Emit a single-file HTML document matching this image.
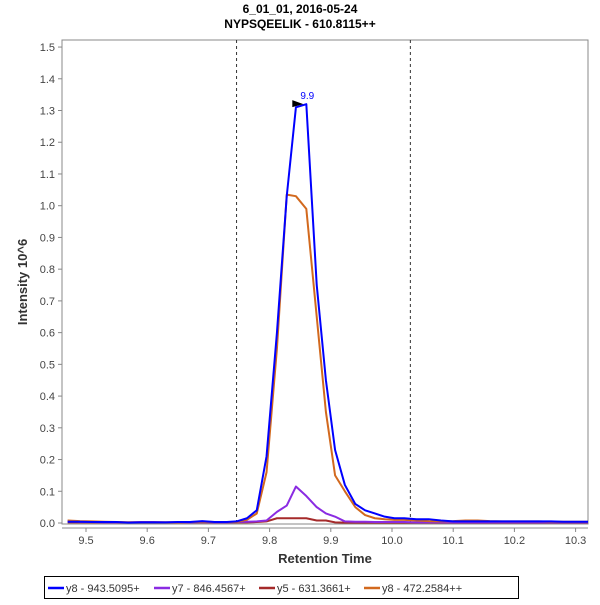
<!DOCTYPE html>
<html><head><meta charset="utf-8"><style>
body{margin:0;background:#fff;font-family:"Liberation Sans",sans-serif}
svg text{font-family:"Liberation Sans",sans-serif}
</style></head><body>
<svg id="c" width="600" height="600" xmlns="http://www.w3.org/2000/svg">
<defs><clipPath id="clip"><rect x="62" y="40" width="526" height="484"/></clipPath></defs>
<text x="300" y="13" text-anchor="middle" font-size="12" font-weight="bold">6_01_01, 2016-05-24</text>
<text x="300" y="28" text-anchor="middle" font-size="12" font-weight="bold">NYPSQEELIK - 610.8115++</text>
<rect x="62" y="40" width="526" height="484" fill="#fff" stroke="#888"/>
<g id="yt"></g><g id="xt"></g><g id="series" clip-path="url(#clip)"></g>
<text transform="translate(27,282) rotate(-90)" text-anchor="middle" font-size="13" font-weight="bold" fill="#333">Intensity 10^6</text>
<text x="325" y="563" text-anchor="middle" font-size="13" font-weight="bold" fill="#333">Retention Time</text>
<g>
<rect x="44.5" y="576.5" width="474" height="22" fill="#fff" stroke="#000"/>
<line x1="48" y1="588" x2="64" y2="588" stroke="#0000ff" stroke-width="2.5"/><text x="66" y="592" font-size="11" fill="#333">y8 - 943.5095+</text>
<line x1="154" y1="588" x2="170" y2="588" stroke="#8a2be2" stroke-width="2.5"/><text x="172" y="592" font-size="11" fill="#333">y7 - 846.4567+</text>
<line x1="259" y1="588" x2="275" y2="588" stroke="#a52a2a" stroke-width="2.5"/><text x="277" y="592" font-size="11" fill="#333">y5 - 631.3661+</text>
<line x1="364" y1="588" x2="380" y2="588" stroke="#d2691e" stroke-width="2.5"/><text x="382" y="592" font-size="11" fill="#333">y8 - 472.2584++</text>
</g>
</svg>
<script>
const times=[9.47,9.49,9.51,9.53,9.55,9.57,9.59,9.61,9.63,9.65,9.67,9.69,9.71,9.73,9.746,9.763,9.779,9.795,9.812,9.828,9.843,9.860,9.877,9.892,9.907,9.923,9.940,9.956,9.972,9.988,10.004,10.02,10.04,10.06,10.08,10.10,10.12,10.14,10.16,10.18,10.20,10.22,10.24,10.26,10.28,10.30,10.33];
const blueVals=[0.004,0.004,0.003,0.003,0.003,0.001,0.002,0.002,0.002,0.003,0.003,0.006,0.003,0.003,0.005,0.015,0.04,0.21,0.6,1.03,1.31,1.32,0.75,0.45,0.23,0.12,0.06,0.04,0.03,0.02,0.015,0.015,0.012,0.012,0.008,0.005,0.005,0.005,0.005,0.005,0.005,0.005,0.005,0.005,0.004,0.004,0.004];
const orangeVals=[0.008,0.006,0.005,0.004,0.003,0.002,0.002,0.002,0.002,0.002,0.003,0.004,0.003,0.003,0.003,0.01,0.03,0.16,0.55,1.035,1.03,0.99,0.65,0.35,0.15,0.1,0.05,0.025,0.015,0.012,0.01,0.01,0.008,0.006,0.005,0.006,0.008,0.008,0.006,0.005,0.005,0.005,0.005,0.004,0.004,0.004,0.004];
const purpleVals=[0.007,0.004,0.003,0.002,0.002,0.002,0.003,0.003,0.002,0.002,0.002,0.003,0.002,0.002,0.003,0.004,0.005,0.008,0.035,0.055,0.115,0.085,0.05,0.03,0.02,0.005,0.004,0.004,0.003,0.003,0.003,0.003,0.002,0.002,0.002,0.002,0.002,0.002,0.002,0.002,0.002,0.002,0.002,0.002,0.002,0.002,0.002];
const redVals=[0.002,0.002,0.002,0.002,0.002,0.002,0.002,0.002,0.002,0.002,0.002,0.002,0.002,0.002,0.002,0.002,0.003,0.005,0.015,0.015,0.015,0.015,0.008,0.008,0.002,0.001,0.001,0.001,0.001,0.001,0.001,0.001,0.001,0.001,0.001,0.001,0.001,0.001,0.001,0.001,0.001,0.001,0.001,0.001,0.001,0.001,0.001];
const yTicks=[0,0.1,0.2,0.3,0.4,0.5,0.6,0.7,0.8,0.9,1.0,1.1,1.2,1.3,1.4,1.5];
const xTicks=[9.5,9.6,9.7,9.8,9.9,10.0,10.1,10.2,10.3];
const markers=[9.746,10.03];
const peakTime=9.86, peakVal=1.32, peakLabel="9.9";
const NS="http://www.w3.org/2000/svg";
const X=t=>86+(t-9.5)*612;
const Y=v=>523-v*317.3;
function mk(tag,attrs,parent){const e=document.createElementNS(NS,tag);for(const k in attrs)e.setAttribute(k,attrs[k]);parent.appendChild(e);return e;}
const yt=document.getElementById('yt'),xt=document.getElementById('xt'),sg=document.getElementById('series');
yTicks.forEach(v=>{
 mk('line',{x1:58,x2:62,y1:Y(v),y2:Y(v),stroke:'#888'},yt);
 const t=mk('text',{x:55,y:Y(v)+4,'text-anchor':'end','font-size':11,fill:'#444'},yt);
 
 
 t.textContent=v.toFixed(1);
});
mk('line',{x1:62,x2:588,y1:528,y2:528,stroke:'#888'},xt);
xTicks.forEach(v=>{
 mk('line',{x1:X(v),x2:X(v),y1:528,y2:532,stroke:'#888'},xt);
 const t=mk('text',{x:X(v),y:544,'text-anchor':'middle','font-size':11,fill:'#444'},xt);
 
 
 t.textContent=v.toFixed(1);
});
markers.forEach(m=>{
 const l=mk('line',{x1:X(m),x2:X(m),y1:40,y2:524,stroke:'#333','stroke-dasharray':'3,3'},sg);
 
 
});
function series(vals,color,name){
 const p=mk('polyline',{points:times.map((t,i)=>X(t)+','+Y(vals[i])).join(' '),fill:'none',stroke:color,'stroke-width':2,'stroke-linejoin':'round'},sg);
 
 
}
series(redVals,'#a52a2a','series-y5');
series(purpleVals,'#8a2be2','series-y7');
series(orangeVals,'#d2691e','series-y8-2');
series(blueVals,'#0000ff','series-y8');
const px=X(peakTime),py=Y(peakVal);
const tri=mk('polygon',{points:(px-14)+','+(py-4)+' '+(px-14)+','+(py+3)+' '+(px-3)+','+py,fill:'#000'},sg);


const pl=mk('text',{x:px-6,y:py-5,'font-size':10,fill:'#0000ff'},sg);


pl.textContent=peakLabel;
</script>
</body></html>
